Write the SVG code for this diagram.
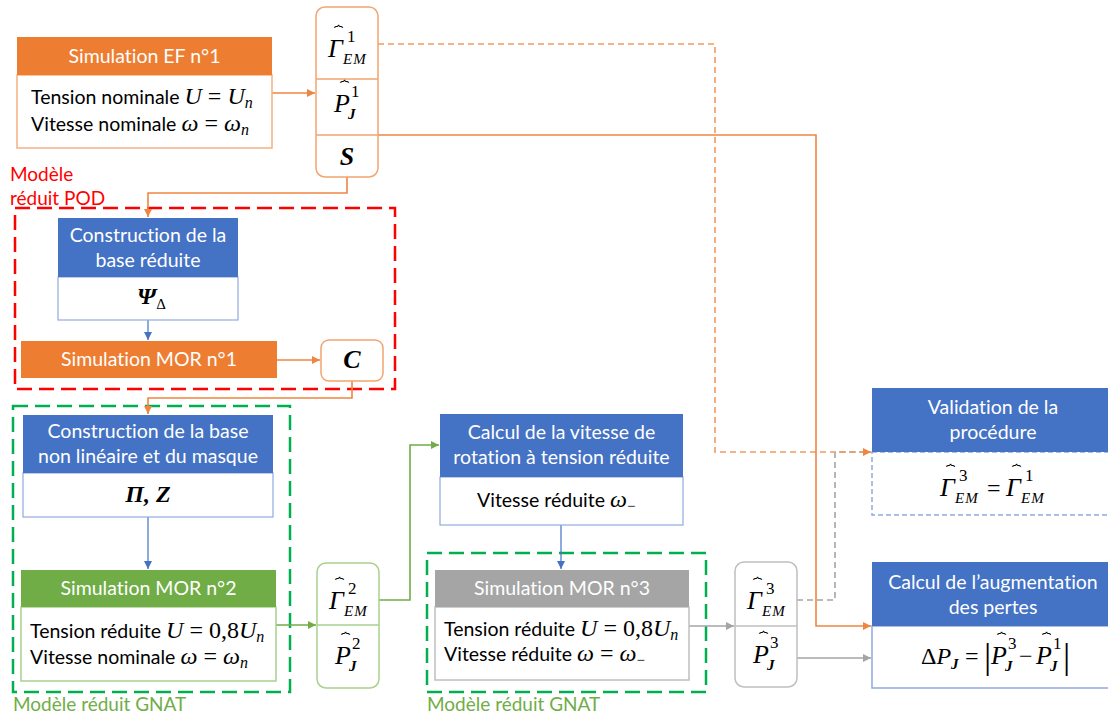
<svg xmlns="http://www.w3.org/2000/svg" width="1108" height="718" viewBox="0 0 1108 718">
<style>
.h{font-family:Lato,"Liberation Sans",sans-serif;font-size:19.5px;fill:#fff;text-anchor:middle;font-variant-ligatures:none}
.t{font-family:Lato,"Liberation Sans",sans-serif;font-size:19.5px;fill:#000;font-variant-ligatures:none}
.mi{font-family:"Liberation Serif",serif;font-style:italic}
.mr{font-family:"Liberation Serif",serif;font-style:normal}
.m{font-family:"Liberation Serif",serif;fill:#000}
.big{font-size:26px;font-style:italic}
.sup{font-size:17px;font-style:normal}
.sub{font-size:15px;font-style:italic;letter-spacing:1px}
.br{font-family:"DejaVu Sans",sans-serif;font-size:15px;font-style:normal}
.bold{font-weight:bold;font-style:italic}
.lbl{font-family:Lato,"Liberation Sans",sans-serif;font-size:19px;font-variant-ligatures:none}
.or{stroke:#EE8540;stroke-width:1.6;fill:none}
.ordash{stroke:#F29A5E;stroke-width:1.6;fill:none;stroke-dasharray:6,4}
.bl{stroke:#4472C4;stroke-width:1.2;fill:none}
.gr{stroke:#70AD47;stroke-width:1.6;fill:none}
.gy{stroke:#A5A5A5;stroke-width:1.6;fill:none}
.gydash{stroke:#A5A5A5;stroke-width:1.6;fill:none;stroke-dasharray:6,4}
</style>
<defs>
<marker id="aO" viewBox="0 0 10 10" refX="10" refY="5" markerWidth="8" markerHeight="8" markerUnits="userSpaceOnUse" orient="auto"><path d="M0,0L10,5L0,10z" fill="#EE8540"/></marker>
<marker id="aB" viewBox="0 0 10 10" refX="10" refY="5" markerWidth="8" markerHeight="8" markerUnits="userSpaceOnUse" orient="auto"><path d="M0,0L10,5L0,10z" fill="#4472C4"/></marker>
<marker id="aG" viewBox="0 0 10 10" refX="10" refY="5" markerWidth="8" markerHeight="8" markerUnits="userSpaceOnUse" orient="auto"><path d="M0,0L10,5L0,10z" fill="#70AD47"/></marker>
<marker id="aY" viewBox="0 0 10 10" refX="10" refY="5" markerWidth="8" markerHeight="8" markerUnits="userSpaceOnUse" orient="auto"><path d="M0,0L10,5L0,10z" fill="#A5A5A5"/></marker>
</defs>
<rect width="1108" height="718" fill="#fff"/>

<!-- group boxes -->
<g id="pod-group">
<rect x="15" y="208" width="380" height="181" fill="none" stroke="#FF0000" stroke-width="2.5" stroke-dasharray="15,7"/>
<text class="lbl" fill="#FF0000"><tspan x="10" y="181">Modèle</tspan><tspan x="10" y="205">réduit POD</tspan></text>
</g>
<g id="gnat-group-1">
<rect x="13" y="406" width="277" height="286" fill="none" stroke="#00B050" stroke-width="2.5" stroke-dasharray="15,7"/>
<text x="13" y="711" class="lbl" fill="#70AD47">Modèle réduit GNAT</text>
</g>
<g id="gnat-group-2">
<rect x="427" y="553" width="279" height="139" fill="none" stroke="#00B050" stroke-width="2.5" stroke-dasharray="15,7"/>
<text x="427" y="711" class="lbl" fill="#70AD47">Modèle réduit GNAT</text>
</g>

<!-- connectors -->
<g id="connectors">
<path class="or" d="M272,93H315" marker-end="url(#aO)"/>
<path class="gydash" d="M797,600H835V452H871"/>
<path class="ordash" d="M378,44H715V452H871" marker-end="url(#aO)"/>
<path class="or" d="M378,135H816V626H871" marker-end="url(#aO)"/>
<path class="or" d="M347,177V193H148V217" marker-end="url(#aO)"/>
<path class="bl" d="M148,320V340" marker-end="url(#aB)"/>
<path class="or" d="M277,360H320" marker-end="url(#aO)"/>
<path class="or" d="M352,381V398H148V414" marker-end="url(#aO)"/>
<path class="bl" d="M148,517V569" marker-end="url(#aB)"/>
<path class="gr" d="M276,625H316" marker-end="url(#aG)"/>
<path class="gr" d="M379,600H410V445H439" marker-end="url(#aG)"/>
<path class="bl" d="M561,525V569" marker-end="url(#aB)"/>
<path class="gy" d="M689,626H734" marker-end="url(#aY)"/>
<path class="gy" d="M797,658H871" marker-end="url(#aY)"/>
</g>

<!-- Simulation EF n°1 -->
<g id="sim-ef1">
<rect x="17" y="75" width="255" height="73" fill="#fff" stroke="#F4B183" stroke-width="1.5"/>
<rect x="17" y="37" width="255" height="38" fill="#ED7D31"/>
<text x="144.5" y="63" class="h">Simulation EF n°1</text>
<text x="31" y="104" class="t">Tension nominale<tspan class="mi" font-size="24" dx="5">U</tspan><tspan class="mr" font-size="24" dx="6">=</tspan><tspan class="mi" font-size="24" dx="6">U</tspan><tspan class="mi" font-size="16" dy="4">n</tspan></text>
<text x="31" y="131" class="t">Vitesse nominale<tspan class="mi" font-size="24" dx="5">ω</tspan><tspan class="mr" font-size="24" dx="6">=</tspan><tspan class="mi" font-size="24" dx="6">ω</tspan><tspan class="mi" font-size="16" dy="4">n</tspan></text>
</g>

<!-- outputs 1 -->
<g id="out1">
<rect x="316" y="7" width="62" height="170" rx="9" fill="#fff" stroke="#F4A46F" stroke-width="1.5"/>
<path d="M316,79H378M316,135H378" stroke="#F4A46F" stroke-width="1.5"/>
<text class="m"><tspan class="big" x="328" y="57">Γ</tspan><tspan class="br" x="334" y="38">⏞</tspan><tspan class="sup" x="347" y="42">1</tspan><tspan class="sub" x="343" y="64">EM</tspan></text>
<text class="m"><tspan class="big" x="334" y="112">P</tspan><tspan class="br" x="340" y="93">⏞</tspan><tspan class="sup" x="351" y="97">1</tspan><tspan class="sub bold" x="348" y="119">J</tspan></text>
<text x="347" y="165" class="m big bold" text-anchor="middle">S</text>
</g>

<!-- Construction de la base réduite -->
<g id="base-reduite">
<rect x="58" y="277" width="180" height="43" fill="#fff" stroke="#8FAADC" stroke-width="1.2"/>
<rect x="58" y="218" width="180" height="59" fill="#4472C4"/>
<text class="h"><tspan x="148" y="242">Construction de la</tspan><tspan x="148" y="267">base réduite</tspan></text>
<text x="137" y="304" class="m"><tspan class="bold" font-size="24">Ψ</tspan><tspan font-size="15" dy="5">Δ</tspan></text>
</g>

<!-- Simulation MOR n°1 -->
<g id="sim-mor1">
<rect x="21" y="341" width="256" height="37" fill="#ED7D31"/>
<text x="149" y="366" class="h">Simulation MOR n°1</text>
</g>
<g id="out-c">
<rect x="321" y="340" width="62" height="41" rx="8" fill="#fff" stroke="#F4A46F" stroke-width="1.5"/>
<text x="352" y="368" class="m big bold" text-anchor="middle">C</text>
</g>

<!-- Construction base non linéaire -->
<g id="base-nl">
<rect x="23" y="473" width="250" height="44" fill="#fff" stroke="#8FAADC" stroke-width="1.2"/>
<rect x="23" y="415" width="250" height="58" fill="#4472C4"/>
<text class="h"><tspan x="148" y="438">Construction de la base</tspan><tspan x="148" y="463">non linéaire et du masque</tspan></text>
<text x="148" y="502" class="m bold" font-size="24" text-anchor="middle">Π, Z</text>
</g>

<!-- Simulation MOR n°2 -->
<g id="sim-mor2">
<rect x="21" y="607" width="255" height="74" fill="#fff" stroke="#A9D18E" stroke-width="1.5"/>
<rect x="21" y="570" width="255" height="37" fill="#70AD47"/>
<text x="148.5" y="595" class="h">Simulation MOR n°2</text>
<text x="30" y="638" class="t">Tension réduite<tspan class="mi" font-size="24" dx="5">U</tspan><tspan class="mr" font-size="24" dx="6">=</tspan><tspan class="mr" font-size="24" dx="6">0,8</tspan><tspan class="mi" font-size="24">U</tspan><tspan class="mi" font-size="16" dy="4">n</tspan></text>
<text x="30" y="664" class="t">Vitesse nominale<tspan class="mi" font-size="24" dx="5">ω</tspan><tspan class="mr" font-size="24" dx="6">=</tspan><tspan class="mi" font-size="24" dx="6">ω</tspan><tspan class="mi" font-size="16" dy="4">n</tspan></text>
</g>

<!-- outputs 2 -->
<g id="out2">
<rect x="317" y="563" width="62" height="125" rx="9" fill="#fff" stroke="#A9D18E" stroke-width="1.5"/>
<path d="M317,625H379" stroke="#A9D18E" stroke-width="1.5"/>
<text class="m"><tspan class="big" x="329" y="609">Γ</tspan><tspan class="br" x="335" y="590">⏞</tspan><tspan class="sup" x="348" y="594">2</tspan><tspan class="sub" x="344" y="616">EM</tspan></text>
<text class="m"><tspan class="big" x="335" y="664">P</tspan><tspan class="br" x="341" y="645">⏞</tspan><tspan class="sup" x="352" y="649">2</tspan><tspan class="sub bold" x="349" y="671">J</tspan></text>
</g>

<!-- Calcul de la vitesse -->
<g id="calc-vitesse">
<rect x="440" y="477" width="243" height="48" fill="#fff" stroke="#8FAADC" stroke-width="1.2"/>
<rect x="440" y="414" width="243" height="63" fill="#4472C4"/>
<text class="h"><tspan x="561.5" y="439">Calcul de la vitesse de</tspan><tspan x="561.5" y="464">rotation à tension réduite</tspan></text>
<text x="477" y="507" class="t">Vitesse réduite<tspan class="mi" font-size="24" dx="5">ω</tspan><tspan class="mr" font-size="15" dy="4">−</tspan></text>
</g>

<!-- Simulation MOR n°3 -->
<g id="sim-mor3">
<rect x="435" y="607" width="254" height="73" fill="#fff" stroke="#BFBFBF" stroke-width="1.5"/>
<rect x="435" y="570" width="254" height="37" fill="#A5A5A5"/>
<text x="562" y="595" class="h">Simulation MOR n°3</text>
<text x="444" y="636" class="t">Tension réduite<tspan class="mi" font-size="24" dx="5">U</tspan><tspan class="mr" font-size="24" dx="6">=</tspan><tspan class="mr" font-size="24" dx="6">0,8</tspan><tspan class="mi" font-size="24">U</tspan><tspan class="mi" font-size="16" dy="4">n</tspan></text>
<text x="444" y="661" class="t">Vitesse réduite<tspan class="mi" font-size="24" dx="5">ω</tspan><tspan class="mr" font-size="24" dx="6">=</tspan><tspan class="mi" font-size="24" dx="6">ω</tspan><tspan class="mr" font-size="15" dy="4">−</tspan></text>
</g>

<!-- outputs 3 -->
<g id="out3">
<rect x="735" y="562" width="62" height="125" rx="9" fill="#fff" stroke="#BFBFBF" stroke-width="1.5"/>
<path d="M735,626H797" stroke="#BFBFBF" stroke-width="1.5"/>
<text class="m"><tspan class="big" x="747" y="609">Γ</tspan><tspan class="br" x="753" y="590">⏞</tspan><tspan class="sup" x="766" y="594">3</tspan><tspan class="sub" x="762" y="616">EM</tspan></text>
<text class="m"><tspan class="big" x="753" y="663">P</tspan><tspan class="br" x="759" y="644">⏞</tspan><tspan class="sup" x="770" y="648">3</tspan><tspan class="sub bold" x="767" y="670">J</tspan></text>
</g>

<!-- Validation -->
<g id="validation">
<rect x="872" y="452" width="242" height="63" fill="#fff" stroke="#8FAADC" stroke-width="1.5" stroke-dasharray="5,3"/>
<rect x="872" y="388" width="242" height="64" fill="#4472C4"/>
<text class="h"><tspan x="993" y="414">Validation de la</tspan><tspan x="993" y="439">procédure</tspan></text>
<text class="m"><tspan class="big" x="940" y="496">Γ</tspan><tspan class="br" x="946" y="477">⏞</tspan><tspan class="sup" x="959" y="481">3</tspan><tspan class="sub" x="955" y="503">EM</tspan><tspan class="mr" font-size="24" x="987" y="496">=</tspan><tspan class="big" x="1006" y="496">Γ</tspan><tspan class="br" x="1012" y="477">⏞</tspan><tspan class="sup" x="1025" y="481">1</tspan><tspan class="sub" x="1021" y="503">EM</tspan></text>
</g>

<!-- Calcul augmentation -->
<g id="calc-pertes">
<rect x="872" y="626" width="242" height="62" fill="#fff" stroke="#8FAADC" stroke-width="1.5"/>
<rect x="872" y="562" width="242" height="64" fill="#4472C4"/>
<text class="h"><tspan x="993" y="589">Calcul de l’augmentation</tspan><tspan x="993" y="614">des pertes</tspan></text>
<text class="m" font-size="24"><tspan x="921" y="664">Δ</tspan><tspan class="mi">P</tspan><tspan class="bold" font-size="15" dy="5">J</tspan><tspan x="965" y="664">=</tspan><tspan font-size="36" x="984" y="668">|</tspan><tspan class="big" x="991" y="664">P</tspan><tspan class="br" x="997" y="645">⏞</tspan><tspan class="sup" x="1008" y="649">3</tspan><tspan class="sub bold" x="1005" y="671">J</tspan><tspan x="1019" y="664">−</tspan><tspan class="big" x="1036" y="664">P</tspan><tspan class="br" x="1042" y="645">⏞</tspan><tspan class="sup" x="1053" y="649">1</tspan><tspan class="sub bold" x="1050" y="671">J</tspan><tspan font-size="36" x="1063" y="668">|</tspan></text>
</g>
</svg>
